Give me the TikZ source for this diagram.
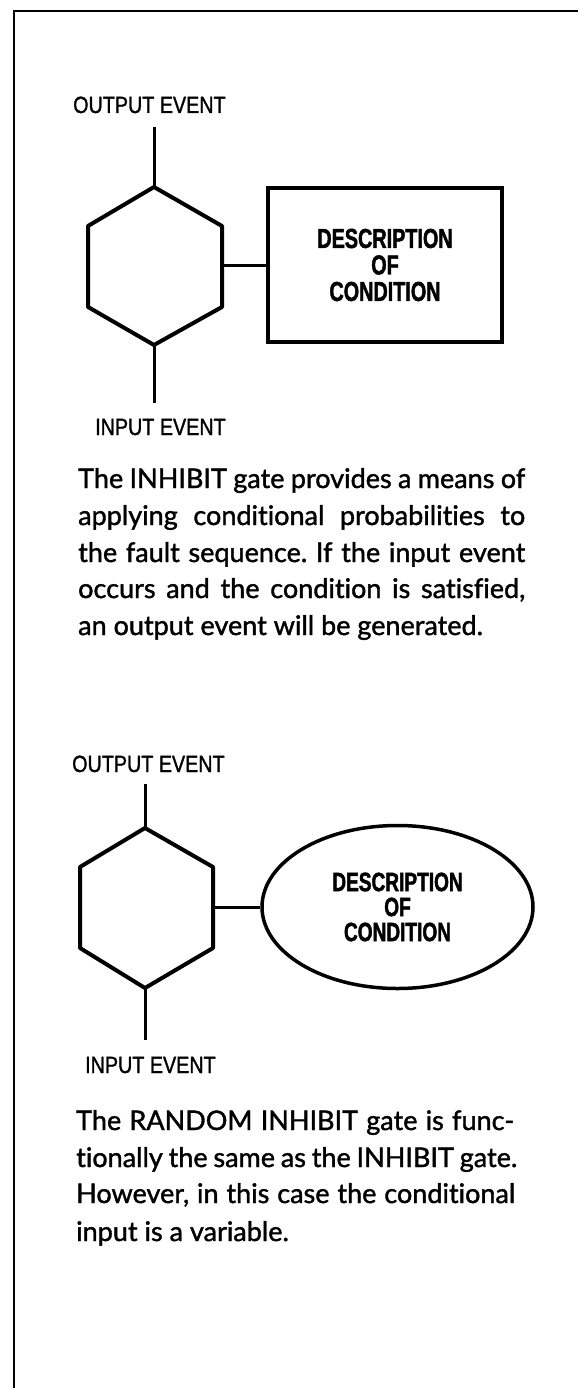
\documentclass[tikz,border=0pt]{standalone}
\usepackage{fontspec}
\usetikzlibrary{shapes.geometric}
\newfontfamily\bodyfont{Lato}[FakeBold=1.4, Ligatures={NoCommon,NoRequired,NoContextual}]
\newfontfamily\lblfont{Liberation Sans}[FakeStretch=0.84, FakeBold=1.2]
\newfontfamily\condfont{Liberation Sans}[FakeStretch=0.72, FakeBold=1.5]
\frenchspacing
\tikzset{
  frameline/.style={line width=2.5pt},
  gateline/.style={line width=4pt, line join=round},
  wire/.style={line width=3pt},
  eventlbl/.style={anchor=base west, inner sep=0pt, font=\lblfont\fontsize{23.5}{26}\selectfont},
  condbox/.style={draw, line width=4pt, align=center, inner sep=0pt,
    font=\condfont\bfseries\fontsize{27.5}{26.5}\selectfont},
  condell/.style={draw, ellipse, line width=3.5pt, align=center, inner sep=0pt,
    font=\condfont\bfseries\fontsize{26.5}{25}\selectfont},
  bodyline/.style={anchor=base west, inner sep=0pt, font=\bodyfont\fontsize{27}{36}\selectfont}
}
\begin{document}
\begin{tikzpicture}[x=1pt,y=-1pt]
\useasboundingbox (0,0) rectangle (578,1388);
% frame
\coordinate (ftl) at (14,11);
\coordinate (ftr) at (578,11);
\coordinate (fbl) at (14,1388);
\draw[frameline] (ftr) -- (ftl) -- (fbl);

% ---------- INHIBIT gate ----------
\node[eventlbl] (out1) at (73,113) {OUTPUT EVENT};
\coordinate (o1) at (154,127);
\coordinate (h1t) at (154,187);
\coordinate (h1ul) at (88,226);
\coordinate (h1ll) at (88,307);
\coordinate (h1b) at (154,345);
\coordinate (h1lr) at (222,307);
\coordinate (h1ur) at (222,226);
\coordinate (h1r) at (222,265);
\coordinate (i1) at (154,403);
\draw[gateline] (h1t) -- (h1ul) -- (h1ll) -- (h1b) -- (h1lr) -- (h1ur) -- cycle;
\draw[wire] (o1) -- (h1t);
\draw[wire] (h1b) -- (i1);
\node[condbox, minimum width=234pt, minimum height=154pt] (c1) at (385,265)
  {DESCRIPTION\\OF\\CONDITION};
\draw[wire] (h1r) -- (c1.west);
\node[eventlbl] (in1) at (95,435) {INPUT EVENT};

\node[bodyline] (p1a) at (78,488) {\makebox[447pt][s]{The INHIBIT gate provides a means of}};
\node[bodyline] (p1b) at (78,525) {\makebox[447pt][s]{applying conditional probabilities to}};
\node[bodyline] (p1c) at (78,562) {\makebox[447pt][s]{the fault sequence. If the input event}};
\node[bodyline] (p1d) at (78,598) {\makebox[447pt][s]{occurs and the condition is satisfied,}};
\node[bodyline] (p1e) at (78,635) {an output event will be generated.};

% ---------- RANDOM INHIBIT gate ----------
\node[eventlbl] (out2) at (72,772) {OUTPUT EVENT};
\coordinate (o2) at (145,784);
\coordinate (h2t) at (145,828);
\coordinate (h2ul) at (80,867);
\coordinate (h2ll) at (80,948);
\coordinate (h2b) at (145,988);
\coordinate (h2lr) at (213,948);
\coordinate (h2ur) at (213,867);
\coordinate (h2r) at (213,907);
\coordinate (i2) at (145,1040);
\draw[gateline] (h2t) -- (h2ul) -- (h2ll) -- (h2b) -- (h2lr) -- (h2ur) -- cycle;
\draw[wire] (o2) -- (h2t);
\draw[wire] (h2b) -- (i2);
\node[condell, minimum width=271pt, minimum height=163pt] (c2) at (397.5,907)
  {DESCRIPTION\\OF\\CONDITION};
\draw[wire] (h2r) -- (c2.west);
\node[eventlbl] (in2) at (85,1073) {INPUT EVENT};

\node[bodyline] (p2a) at (76,1130) {\makebox[438pt][s]{The RANDOM INHIBIT gate is func-}};
\node[bodyline] (p2b) at (76,1167) {\makebox[441pt][s]{tionally the same as the INHIBIT gate.}};
\node[bodyline] (p2c) at (76,1203) {\makebox[439pt][s]{However, in this case the conditional}};
\node[bodyline] (p2d) at (76,1241) {input is a variable.};
\end{tikzpicture}
\end{document}
